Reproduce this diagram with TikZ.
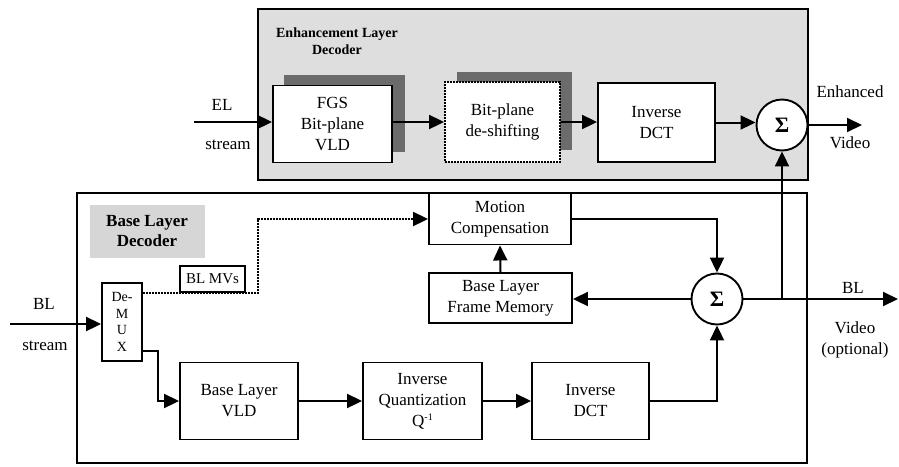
\documentclass[tikz,border=0pt]{standalone}
\usepackage{fontspec}
\setmainfont{Liberation Serif}
\usetikzlibrary{arrows.meta,calc}
\begin{document}
\begin{tikzpicture}[x=1pt,y=-1pt,
  blk/.style={draw,line width=1.9pt,fill=white,align=center,inner sep=0pt,
    font=\fontsize{17}{21}\selectfont},
  dblk/.style={blk,dash pattern=on 1.6pt off 1.4pt,line width=1.9pt},
  sumnode/.style={draw,circle,line width=1.9pt,fill=white,minimum size=51pt,inner sep=0pt,
    font=\fontsize{22}{22}\selectfont\bfseries},
  lbl/.style={align=center,inner sep=0pt,font=\fontsize{17}{21}\selectfont},
  arr/.style={line width=2pt,-{Triangle[length=15pt,width=14pt]}},
  dotarr/.style={line width=2pt,dash pattern=on 1.6pt off 1.4pt,-{Triangle[length=15pt,width=14pt]}},
  shadowbox/.style={fill=black!58,draw=none},
  frame/.style={line width=2pt}
]
\useasboundingbox (0,0) rectangle (899,466);
% Enhancement layer frame
\path[frame,draw,fill=black!13] (258,9) rectangle (808,180);
\node[align=center,inner sep=0pt,font=\fontsize{14}{17}\selectfont\bfseries] (ellabel) at (337,41) {Enhancement Layer\\Decoder};
% shadows
\path[shadowbox] (284,75) rectangle (405,152);
\path[shadowbox] (457,72) rectangle (572,150);
% Base layer frame
\path[frame,draw,fill=white] (77,193) rectangle (807,463);
\path[fill=black!16] (90,205) rectangle (205,258);
\node[align=center,inner sep=0pt,font=\fontsize{17}{20}\selectfont\bfseries] (bllabel) at (147,231) {Base Layer\\Decoder};

% EL blocks
\node[blk,minimum width=119pt,minimum height=77pt] (fgs) at (332.5,124) {FGS\\Bit-plane\\VLD};
\node[dblk,minimum width=115pt,minimum height=80pt] (bps) at (502.5,122) {Bit-plane\\de-shifting};
\node[blk,minimum width=117pt,minimum height=79pt] (eidct) at (656.5,122.5) {Inverse\\DCT};
\node[sumnode] (esum) at (782,125) {Σ};

% BL blocks
\node[blk,minimum width=142pt,minimum height=51pt] (mc) at (500,219) {Motion\\Compensation};
\node[blk,minimum width=143pt,minimum height=50pt] (fm) at (500.5,298) {Base Layer\\Frame Memory};
\node[sumnode] (bsum) at (717,299) {Σ};
\node[blk,minimum width=40pt,minimum height=78pt,font=\fontsize{14}{16.5}\selectfont] (demux) at (122,322) {De-\\M\\U\\X};
\node[blk,minimum width=65pt,minimum height=26pt,font=\fontsize{15}{17}\selectfont] (mvs) at (212.5,279) {BL MVs};
\node[blk,minimum width=118pt,minimum height=77pt] (vld) at (239,401) {Base Layer\\VLD};
\node[blk,minimum width=119pt,minimum height=77pt] (iq) at (422.5,401) {Inverse\\Quantization\\Q\raisebox{0.7ex}{\fontsize{10}{10}\selectfont -1}};
\node[blk,minimum width=117pt,minimum height=77pt] (bidct) at (590.5,401) {Inverse\\DCT};

% outside labels
\node[lbl] (ellbl) at (222,105) {EL};
\node[lbl] (elstream) at (228,145) {stream};
\node[lbl] (enh) at (850,92) {Enhanced};
\node[lbl] (enhv) at (850,143) {Video};
\node[lbl] (bllbl) at (44,304) {BL};
\node[lbl] (blstream) at (45,346) {stream};
\node[lbl] (blout) at (853,288) {BL};
\node[lbl] (bloutv) at (855,328) {Video};
\node[lbl] (blopt) at (855,350) {(optional)};

% coordinates
\coordinate (elin) at (194,122);
\coordinate (enhend) at (862,125);
\coordinate (blin) at (10,324);
\coordinate (mvbend) at (258,293);
\coordinate (dmxbend) at (158,351);
\coordinate (blend) at (898,299);

% EL connectors
\draw[arr] (elin) -- (elin -| fgs.west);
\draw[arr] (fgs.east |- bps.west) -- (bps.west);
\draw[arr] (bps.east) -- (bps.east -| eidct.west);
\draw[arr] (eidct.east) -- (eidct.east -| esum.west);
\draw[arr] (esum.east) -- (enhend);

% BL connectors
\draw[arr] (blin) -- (blin -| demux.west);
\draw[dotarr] (demux.east |- mvbend) -- (mvbend) |- (mc.west);
\draw[arr] (demux.east |- dmxbend) -- (dmxbend) |- (vld.west);
\draw[arr] (vld.east) -- (iq.west);
\draw[arr] (iq.east) -- (bidct.west);
\draw[arr] (bidct.east) -| (bsum.south);
\draw[arr] (mc.east) -| (bsum.north);
\draw[arr] (bsum.west) -- (bsum.west -| fm.east);
\draw[arr] (fm.north) -- (mc.south);
\draw[arr] (bsum.east) -- (blend);
\draw[arr] (esum.south |- bsum.east) -- (esum.south);
\end{tikzpicture}
\end{document}
